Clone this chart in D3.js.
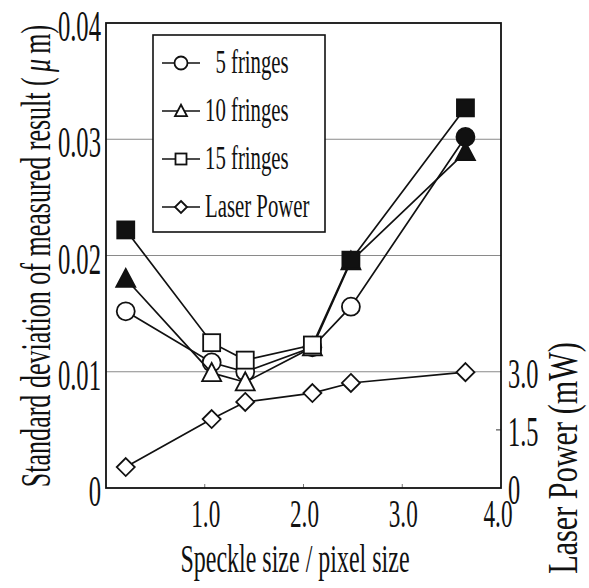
<!DOCTYPE html>
<html>
<head>
<meta charset="utf-8">
<script src="https://d3js.org/d3.v7.min.js"></script>
<style>
  body { margin: 0; background: #fff; }
  text { font-family: "Liberation Serif", "DejaVu Serif", serif; fill: #111; }
</style>
</head>
<body>
<script>
// Valores
const speckleRatio = [0.20, 1.07, 1.41, 2.09, 2.48, 3.64];
const fringes5  = [0.0152, 0.0108, 0.0100, 0.0121, 0.0156, 0.0302];
const fringes10 = [0.0180, 0.0099, 0.0091, 0.0121, 0.0195, 0.0289];
const fringes15 = [0.0222, 0.0125, 0.0110, 0.0123, 0.0196, 0.0327];
const laserPower = [0.54, 1.78, 2.22, 2.45, 2.71, 2.99]; // mW

// pontos preenchidos (marcador cheio) por série
const filled5  = [false, false, false, false, false, true];
const filled10 = [true, false, false, false, true, true];
const filled15 = [true, false, false, false, true, true];

const xTicks = [1, 2, 3, 4];
const yTicks = [0, 0.01, 0.02, 0.03, 0.04];
const yGrid = [0.01, 0.02, 0.03];
const y2Ticks = [0, 1.5, 3.0];

const seriesNames = ["5 fringes", "10 fringes", "15 fringes", "Laser Power"];

const width = 589, height = 588;

const svg = d3.select("body").append("svg")
  .attr("width", width)
  .attr("height", height);

// Escalas
const x = d3.scaleLinear().domain([0, 4]).range([106, 501]);
const y = d3.scaleLinear().domain([0, 0.04]).range([488, 23]);
const y2 = d3.scaleLinear().domain([0, 12]).range([488, 23]);

// Texto condensado (a fonte original é estreita)
const label = (txt, px, py, size, opts = {}) => {
  const t = svg.append("text")
    .attr("transform", `translate(${px},${py}) rotate(${opts.rotate || 0}) scale(${opts.sx || 0.6},1)`)
    .attr("text-anchor", opts.anchor || "start")
    .style("font-size", size + "px");
  t.text(txt);
  return t;
};

// Marcadores
const marker = (g, type, cx, cy, s, filled) => {
  let p;
  if (type === "circle") {
    p = g.append("circle").attr("cx", cx).attr("cy", cy).attr("r", s / 2);
  } else if (type === "square") {
    p = g.append("rect").attr("x", cx - s / 2).attr("y", cy - s / 2)
      .attr("width", s).attr("height", s);
  } else if (type === "triangle") {
    const h = s * 0.95;
    p = g.append("path").attr("d",
      `M${cx},${cy - h * 0.55}L${cx + s / 2},${cy + h * 0.45}L${cx - s / 2},${cy + h * 0.45}Z`);
  } else {
    const r = s / 2;
    p = g.append("path").attr("d",
      `M${cx},${cy - r}L${cx + r},${cy}L${cx},${cy + r}L${cx - r},${cy}Z`);
  }
  p.attr("fill", filled ? "#111" : "#fff")
    .attr("stroke", "#111")
    .attr("stroke-width", 1.8);
};

// Grade
svg.append("g").selectAll("line").data(yGrid).join("line")
  .attr("x1", x(0)).attr("x2", x(4))
  .attr("y1", d => y(d)).attr("y2", d => y(d))
  .attr("stroke", "#8a8a8a").attr("stroke-width", 1);

// Traços do eixo x (para dentro)
svg.append("g").selectAll("line").data(xTicks.slice(0, 3)).join("line")
  .attr("x1", d => x(d)).attr("x2", d => x(d))
  .attr("y1", y(0)).attr("y2", y(0) - 4)
  .attr("stroke", "#777").attr("stroke-width", 1);

// traço do eixo direito
svg.append("line")
  .attr("x1", x(4) - 5).attr("x2", x(4))
  .attr("y1", y2(1.5)).attr("y2", y2(1.5))
  .attr("stroke", "#555").attr("stroke-width", 1.2);

// Moldura
svg.append("rect")
  .attr("x", x(0)).attr("y", y(0.04))
  .attr("width", x(4) - x(0)).attr("height", y(0) - y(0.04))
  .attr("fill", "none").attr("stroke", "#111").attr("stroke-width", 1.8);

// Legenda
const legend = svg.append("g");
legend.append("rect")
  .attr("x", 153).attr("y", 35).attr("width", 172).attr("height", 197)
  .attr("fill", "#fff").attr("stroke", "#111").attr("stroke-width", 1.6);
const legendTypes = ["circle", "triangle", "square", "diamond"];
const legendSizes = [13, 12, 11, 12];
seriesNames.forEach((name, i) => {
  const ly = 63 + i * 48;
  legend.append("line").attr("x1", 162).attr("x2", 200).attr("y1", ly).attr("y2", ly)
    .attr("stroke", "#111").attr("stroke-width", 1.6);
  marker(legend, legendTypes[i], 181, ly, legendSizes[i], false);
  label(i === 0 ? "\u2007" + name : name, 205, ly + 10, 33, { sx: 0.63 });
});

// Séries
const line = d3.line().x(d => x(d[0])).y(d => d[1]);

const drawSeries = (vals, scale, type, size, fills) => {
  const pts = speckleRatio.map((v, i) => [v, scale(vals[i])]);
  const g = svg.append("g");
  g.append("path").datum(pts).attr("d", line)
    .attr("fill", "none").attr("stroke", "#111").attr("stroke-width", 1.7);
  pts.forEach((p, i) => marker(g, type, x(p[0]), p[1], size, fills ? fills[i] : false));
};

drawSeries(laserPower, y2, "diamond", 18, null);
drawSeries(fringes5, y, "circle", 18, filled5);
drawSeries(fringes10, y, "triangle", 19, filled10);
drawSeries(fringes15, y, "square", 17, filled15);

// Rótulos dos eixos
yTicks.forEach(v => label(v === 0 ? "0" : v.toFixed(2), 101, y(v) + 18, 44, { anchor: "end", sx: 0.56 }));
xTicks.forEach(v => label(v.toFixed(1), x(v) + (v === 4 ? -3 : 1), 527, 40, { anchor: "middle", sx: 0.58 }));
y2Ticks.forEach(v => label(v === 0 ? "0" : v.toFixed(1), 508, y2(v) + 16, 42, { sx: 0.58 }));

// Títulos
label("Speckle size / pixel size", 295, 572, 40, { anchor: "middle", sx: 0.6 });

const yTitle = label("Standard deviation of measured result (", 50, 256, 42, { anchor: "middle", rotate: -90, sx: 0.62 });
yTitle.append("tspan").style("font-style", "italic").text("\u2009\u03bc\u2009");
yTitle.append("tspan").text("m)");

label("Laser Power (mW)", 577, 458, 42, { anchor: "middle", rotate: -90, sx: 0.72 });
</script>
</body>
</html>
